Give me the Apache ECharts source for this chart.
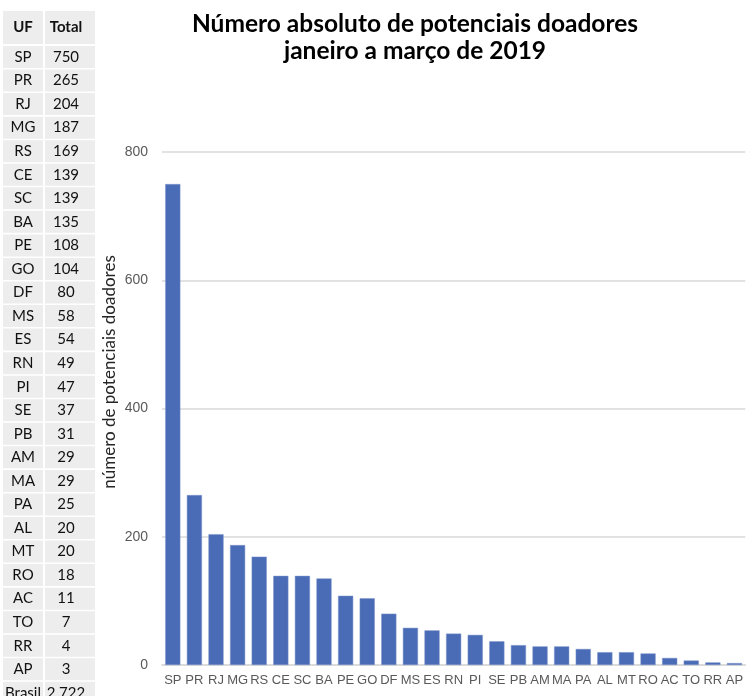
<!DOCTYPE html>
<html>
<head>
<meta charset="utf-8">
<script src="https://cdn.jsdelivr.net/npm/echarts@6/dist/echarts.min.js"></script>
<style>
  html, body { margin: 0; padding: 0; background: #fff; }
  #chart { width: 746px; height: 696px; }
</style>
</head>
<body>
<div id="chart"></div>
<script>
// estados (UF) e totais
const ufs = ['SP', 'PR', 'RJ', 'MG', 'RS', 'CE', 'SC', 'BA', 'PE', 'GO', 'DF', 'MS', 'ES',
  'RN', 'PI', 'SE', 'PB', 'AM', 'MA', 'PA', 'AL', 'MT', 'RO', 'AC', 'TO', 'RR', 'AP']
const totais = [750, 265, 204, 187, 169, 139, 139, 135, 108, 104, 80, 58, 54,
  49, 47, 37, 31, 29, 29, 25, 20, 20, 18, 11, 7, 4, 3]
const headerTabela = ['UF', 'Total']
const linhaBrasil = ['Brasil', '2.722']
const yTicks = [0, 200, 400, 600, 800]
const nomeEixoY = 'número de potenciais doadores'

const fonteTabela = '"Lato", "Noto Sans", sans-serif'
const fonteEixo = '"Liberation Sans", Arial, sans-serif'

// monta a tabela da esquerda
function montaTabela () {
  let els = []
  let cols = [{ x: 3, w: 40, cx: 23 }, { x: 45, w: 50, cx: 66 }]
  let cell = function (col, top, h, txt, bold) {
    els.push({
      type: 'rect',
      shape: { x: col.x, y: top, width: col.w, height: h },
      style: { fill: '#ededed' }
    })
    els.push({
      type: 'text',
      style: {
        text: txt,
        x: col.cx,
        y: top + h / 2,
        align: 'center',
        verticalAlign: 'middle',
        font: (bold ? 'bold 15px ' : '15px ') + fonteTabela,
        fill: '#111'
      }
    })
  }
  cell(cols[0], 11, 33, headerTabela[0], true)
  cell(cols[1], 11, 33, headerTabela[1], true)
  for (let i = 0; i < ufs.length; i++) {
    let top = 46 + i * 23.55
    cell(cols[0], top, 22, ufs[i], false)
    cell(cols[1], top, 22, String(totais[i]), false)
  }
  let top = 46 + ufs.length * 23.55
  cell(cols[0], top, 22, linhaBrasil[0], false)
  cell(cols[1], top, 22, linhaBrasil[1], false)
  // nome do eixo y (fica um pouco acima do meio no original)
  els.push({
    type: 'text',
    x: 110,
    y: 372,
    rotation: Math.PI / 2,
    style: {
      text: nomeEixoY,
      align: 'center',
      verticalAlign: 'middle',
      font: '17px ' + fonteTabela,
      fill: '#262626'
    }
  })
  return els
}

let myChart = echarts.init(document.getElementById('chart'))
let option = {
  animation: false,
  backgroundColor: '#fff',
  title: {
    text: 'Número absoluto de potenciais doadores\njaneiro a março de 2019',
    left: 410,
    top: 6,
    textAlign: 'center',
    textStyle: {
      fontFamily: fonteTabela,
      fontWeight: 'bold',
      fontSize: 24.5,
      lineHeight: 27,
      color: '#000'
    }
  },
  grid: {
    left: 162,
    right: -7,
    top: 152,
    bottom: 31,
    containLabel: false
  },
  xAxis: {
    type: 'category',
    data: ufs,
    axisTick: { show: false },
    axisLine: { lineStyle: { color: '#d9d9d9', width: 1.5 } },
    axisLabel: {
      interval: 0,
      color: '#595959',
      fontSize: 13,
      fontFamily: fonteEixo,
      margin: 9
    }
  },
  yAxis: {
    type: 'value',
    min: yTicks[0],
    max: yTicks[yTicks.length - 1],
    interval: 200,
    axisLine: { show: false },
    axisTick: { show: false },
    axisLabel: {
      color: '#595959',
      fontSize: 14,
      fontFamily: fonteEixo,
      margin: 14
    },
    splitLine: { lineStyle: { color: '#d9d9d9', width: 1.5 } }
  },
  series: [{
    type: 'bar',
    data: totais,
    barCategoryGap: '30%',
    itemStyle: { color: '#4a6bb5', borderColor: '#7d95cc', borderWidth: 0.5 }
  }],
  graphic: montaTabela()
}
myChart.setOption(option)
</script>
</body>
</html>
